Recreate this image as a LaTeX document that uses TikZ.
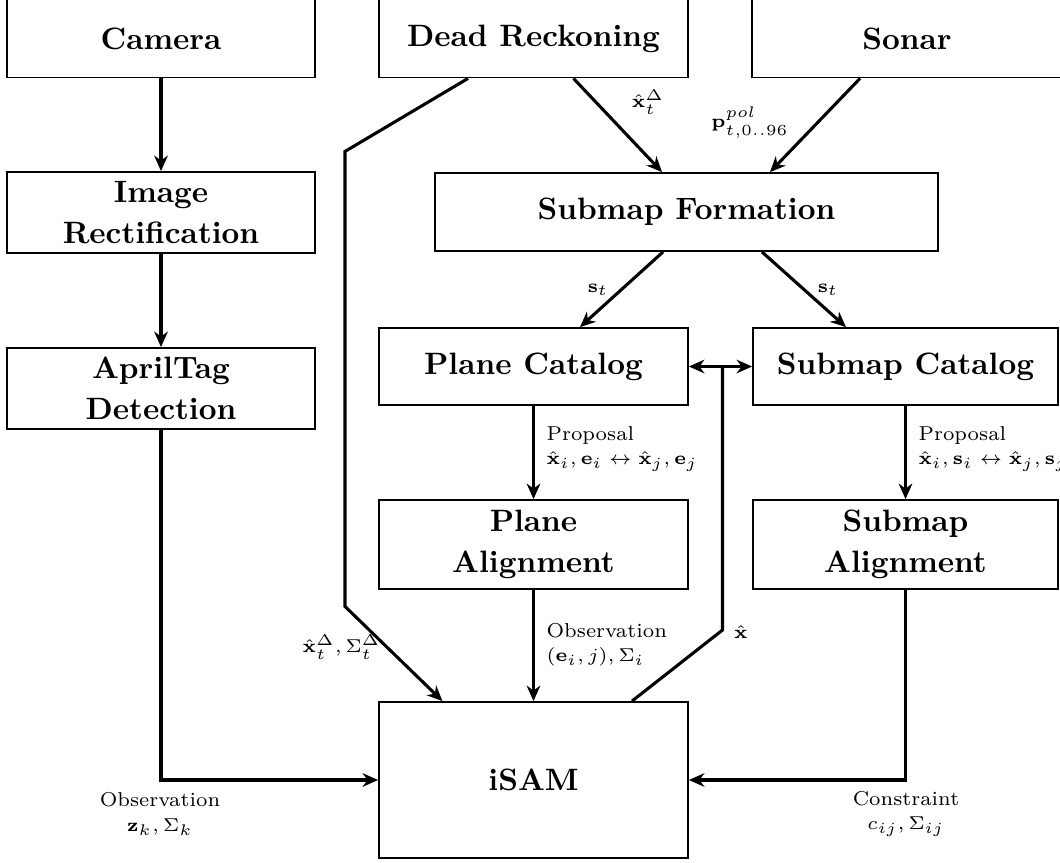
\documentclass[tikz,border=0pt]{standalone}
\usetikzlibrary{arrows.meta,calc}
\begin{document}
\begin{tikzpicture}[x=0.3236pt,y=-0.3236pt,
  box/.style={draw, line width=0.6pt, font=\fontsize{10}{13.3}\selectfont\bfseries, align=center, inner sep=0pt},
  sz/.style 2 args={minimum width=#1*0.3236pt, minimum height=#2*0.3236pt},
  conn/.style={line width=1pt, -{Stealth[length=5pt,width=4.4pt,inset=1.6pt]}},
  dbl/.style={line width=1pt, {Stealth[length=5pt,width=4.4pt,inset=1.6pt]}-{Stealth[length=5pt,width=4.4pt,inset=1.6pt]}},
  plain/.style={line width=1pt},
  lbl/.style={font=\fontsize{6.5}{7.9}\selectfont, inner sep=0pt}]
\useasboundingbox (0,0) rectangle (1060,862);

% boxes
\node[box, sz={308}{78}] (cam) at (161,38.5) {Camera};
\node[box, sz={309}{78}] (dr) at (533.5,38.5) {Dead Reckoning};
\node[box, sz={310}{78}] (son) at (907,38.5) {Sonar};
\node[box, sz={308}{81}] (img) at (161,212.5) {Image\\Rectification};
\node[box, sz={308}{81}] (apr) at (161,388.5) {AprilTag\\Detection};
\node[box, sz={503}{78}] (sf) at (686.5,212) {Submap Formation};
\node[box, sz={309}{77}] (pcat) at (533.5,366.5) {Plane Catalog};
\node[box, sz={305}{77}] (scat) at (905.5,366.5) {Submap Catalog};
\node[box, sz={309}{89}] (pal) at (533.5,544.5) {Plane\\Alignment};
\node[box, sz={305}{89}] (sal) at (905.5,544.5) {Submap\\Alignment};
\node[box, sz={309}{156}] (isam) at (533.5,780) {iSAM};

% connectors
\draw[conn] (cam) -- (img);
\draw[conn] (img) -- (apr);
\draw[conn] (apr.south) |- (isam.west);
\draw[conn] (sal.south) |- (isam.east);
\draw[conn] (pcat) -- (pal);
\draw[conn] (scat) -- (sal);
\draw[conn] (pal) -- (isam);
\draw[conn] ($(dr.south)+(40,0)$) -- ($(sf.north)+(-24.5,0)$);
\draw[conn] ($(son.south)+(-47,0)$) -- ($(sf.north)+(83.5,0)$);
\draw[conn] ($(sf.south)+(-23.5,0)$) -- ($(pcat.north)+(46.5,0)$);
\draw[conn] ($(sf.south)+(75.5,0)$) -- ($(scat.north)+(-59.5,0)$);
\draw[conn] ($(dr.south)+(-65.5,0)$) -- ++(-123,73) -- ++(0,455) -- ($(isam.north)+(-91,0)$);
\coordinate (mid) at ($(pcat.east)!0.5!(scat.west)$);
\draw[dbl] (pcat.east) -- (scat.west);
\draw[plain] ($(isam.north)+(98.5,0)$) -- ($(mid)+(2,263.5)$) -- ($(mid)+(2,0)$);

% labels
\node[lbl] (l1) at (648,102) {$\hat{\mathbf{x}}_t^{\Delta}$};
\node[lbl] (l2) at (750,123) {$\mathbf{p}_{t,0..96}^{pol}$};
\node[lbl] (l3) at (598,290) {$\mathbf{s}_t$};
\node[lbl] (l4) at (828,290) {$\mathbf{s}_t$};
\node[lbl, anchor=west, align=left] (l5) at (546,449) {Proposal\\$\hat{\mathbf{x}}_i,\mathbf{e}_i\leftrightarrow\hat{\mathbf{x}}_j,\mathbf{e}_j$};
\node[lbl, anchor=west, align=left] (l6) at (918,449) {Proposal\\$\hat{\mathbf{x}}_i,\mathbf{s}_i\leftrightarrow\hat{\mathbf{x}}_j,\mathbf{s}_j$};
\node[lbl, anchor=west, align=left] (l7) at (546,645) {Observation\\$(\mathbf{e}_i,j),\Sigma_i$};
\node[lbl, anchor=east] (l8) at (381,647) {$\hat{\mathbf{x}}_t^{\Delta},\Sigma_t^{\Delta}$};
\node[lbl] (l9) at (741,632) {$\hat{\mathbf{x}}$};
\node[lbl, align=center] (l10) at (160,814) {Observation\\$\mathbf{z}_k,\Sigma_k$};
\node[lbl, align=center] (l11) at (906,814) {Constraint\\$c_{ij},\Sigma_{ij}$};
\end{tikzpicture}
\end{document}
